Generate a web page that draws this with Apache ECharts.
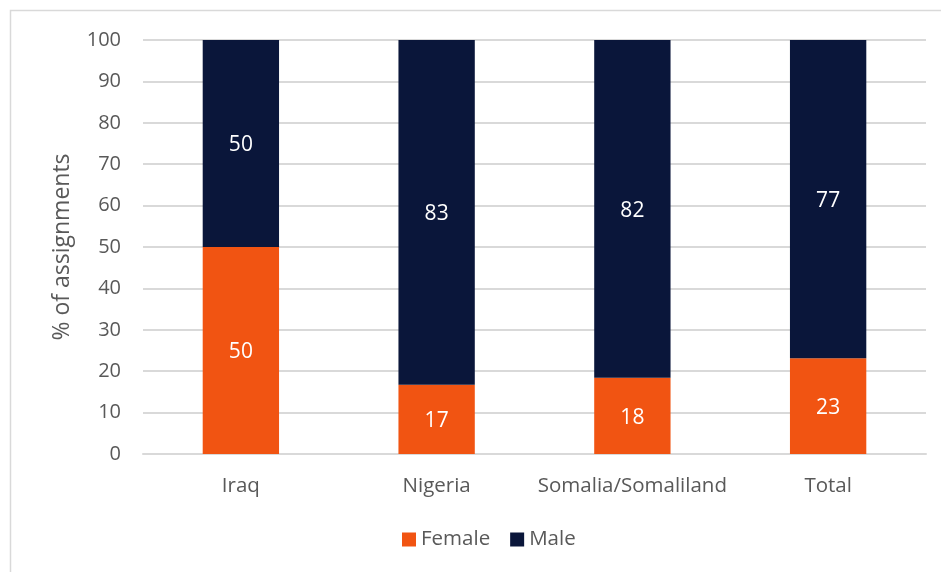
<!DOCTYPE html>
<html>
<head>
<meta charset="utf-8">
<script src="https://cdn.jsdelivr.net/npm/echarts@6/dist/echarts.min.js"></script>
<style>
  html, body { margin: 0; padding: 0; background: #fff; }
  #chart { width: 941px; height: 572px; }
</style>
</head>
<body>
<div id="chart"></div>
<script>
// data
var categories = ['Iraq', 'Nigeria', 'Somalia/Somaliland', 'Total']
var femaleData = [50, 16.7, 18.4, 23.1]
var maleData = [50, 83.3, 81.6, 76.9]
var yTicks = { min: 0, max: 100, interval: 10 }

var chart = echarts.init(document.getElementById('chart'))
var font = '"Open Sans", "Noto Sans", sans-serif'
var textGray = '#595959'

var option = {
  textStyle: { fontFamily: font },
  graphic: [{
    // outer chart frame (right/bottom edges fall outside the picture)
    type: 'rect',
    shape: { x: 10.5, y: 10.5, width: 1000, height: 1000 },
    style: { fill: 'none', stroke: '#d9d9d9', lineWidth: 1.5 },
    silent: true
  }],
  grid: { left: 143, right: 15, top: 40, bottom: 118 },
  xAxis: {
    type: 'category',
    data: categories,
    axisLine: { show: true, lineStyle: { color: '#d9d9d9', width: 2 } },
    axisTick: { show: false },
    axisLabel: { color: textGray, fontSize: 20.5, margin: 22, interval: 0, fontFamily: font }
  },
  yAxis: {
    type: 'value',
    min: yTicks.min,
    max: yTicks.max,
    interval: yTicks.interval,
    name: '% of assignments',
    nameLocation: 'middle',
    nameGap: 69,
    nameTextStyle: { color: textGray, fontSize: 23, fontFamily: font },
    axisLine: { show: false },
    axisTick: { show: false },
    axisLabel: { color: textGray, fontSize: 20, margin: 22, fontFamily: font },
    splitLine: { lineStyle: { color: '#d9d9d9', width: 2 } }
  },
  legend: {
    data: ['Female', 'Male'],
    bottom: 17,
    left: 397,
    icon: 'rect',
    itemWidth: 14,
    itemHeight: 14,
    itemGap: 20,
    textStyle: { color: textGray, fontSize: 20.5, fontFamily: font }
  },
  series: [
    {
      name: 'Female',
      type: 'bar',
      stack: 'total',
      data: femaleData,
      barCategoryGap: '61%',
      itemStyle: { color: '#F15412' },
      label: {
        show: true,
        position: 'inside',
        offset: [0, 2],
        color: '#ffffff',
        fontSize: 21,
        fontFamily: font,
        formatter: function (p) { return Math.round(p.value) }
      }
    },
    {
      name: 'Male',
      type: 'bar',
      stack: 'total',
      data: maleData,
      barCategoryGap: '61%',
      itemStyle: { color: '#0A163A' },
      label: {
        show: true,
        position: 'inside',
        offset: [0, 2],
        color: '#ffffff',
        fontSize: 21,
        fontFamily: font,
        formatter: function (p) { return Math.round(p.value) }
      }
    }
  ]
}
chart.setOption(option)
</script>
</body>
</html>
